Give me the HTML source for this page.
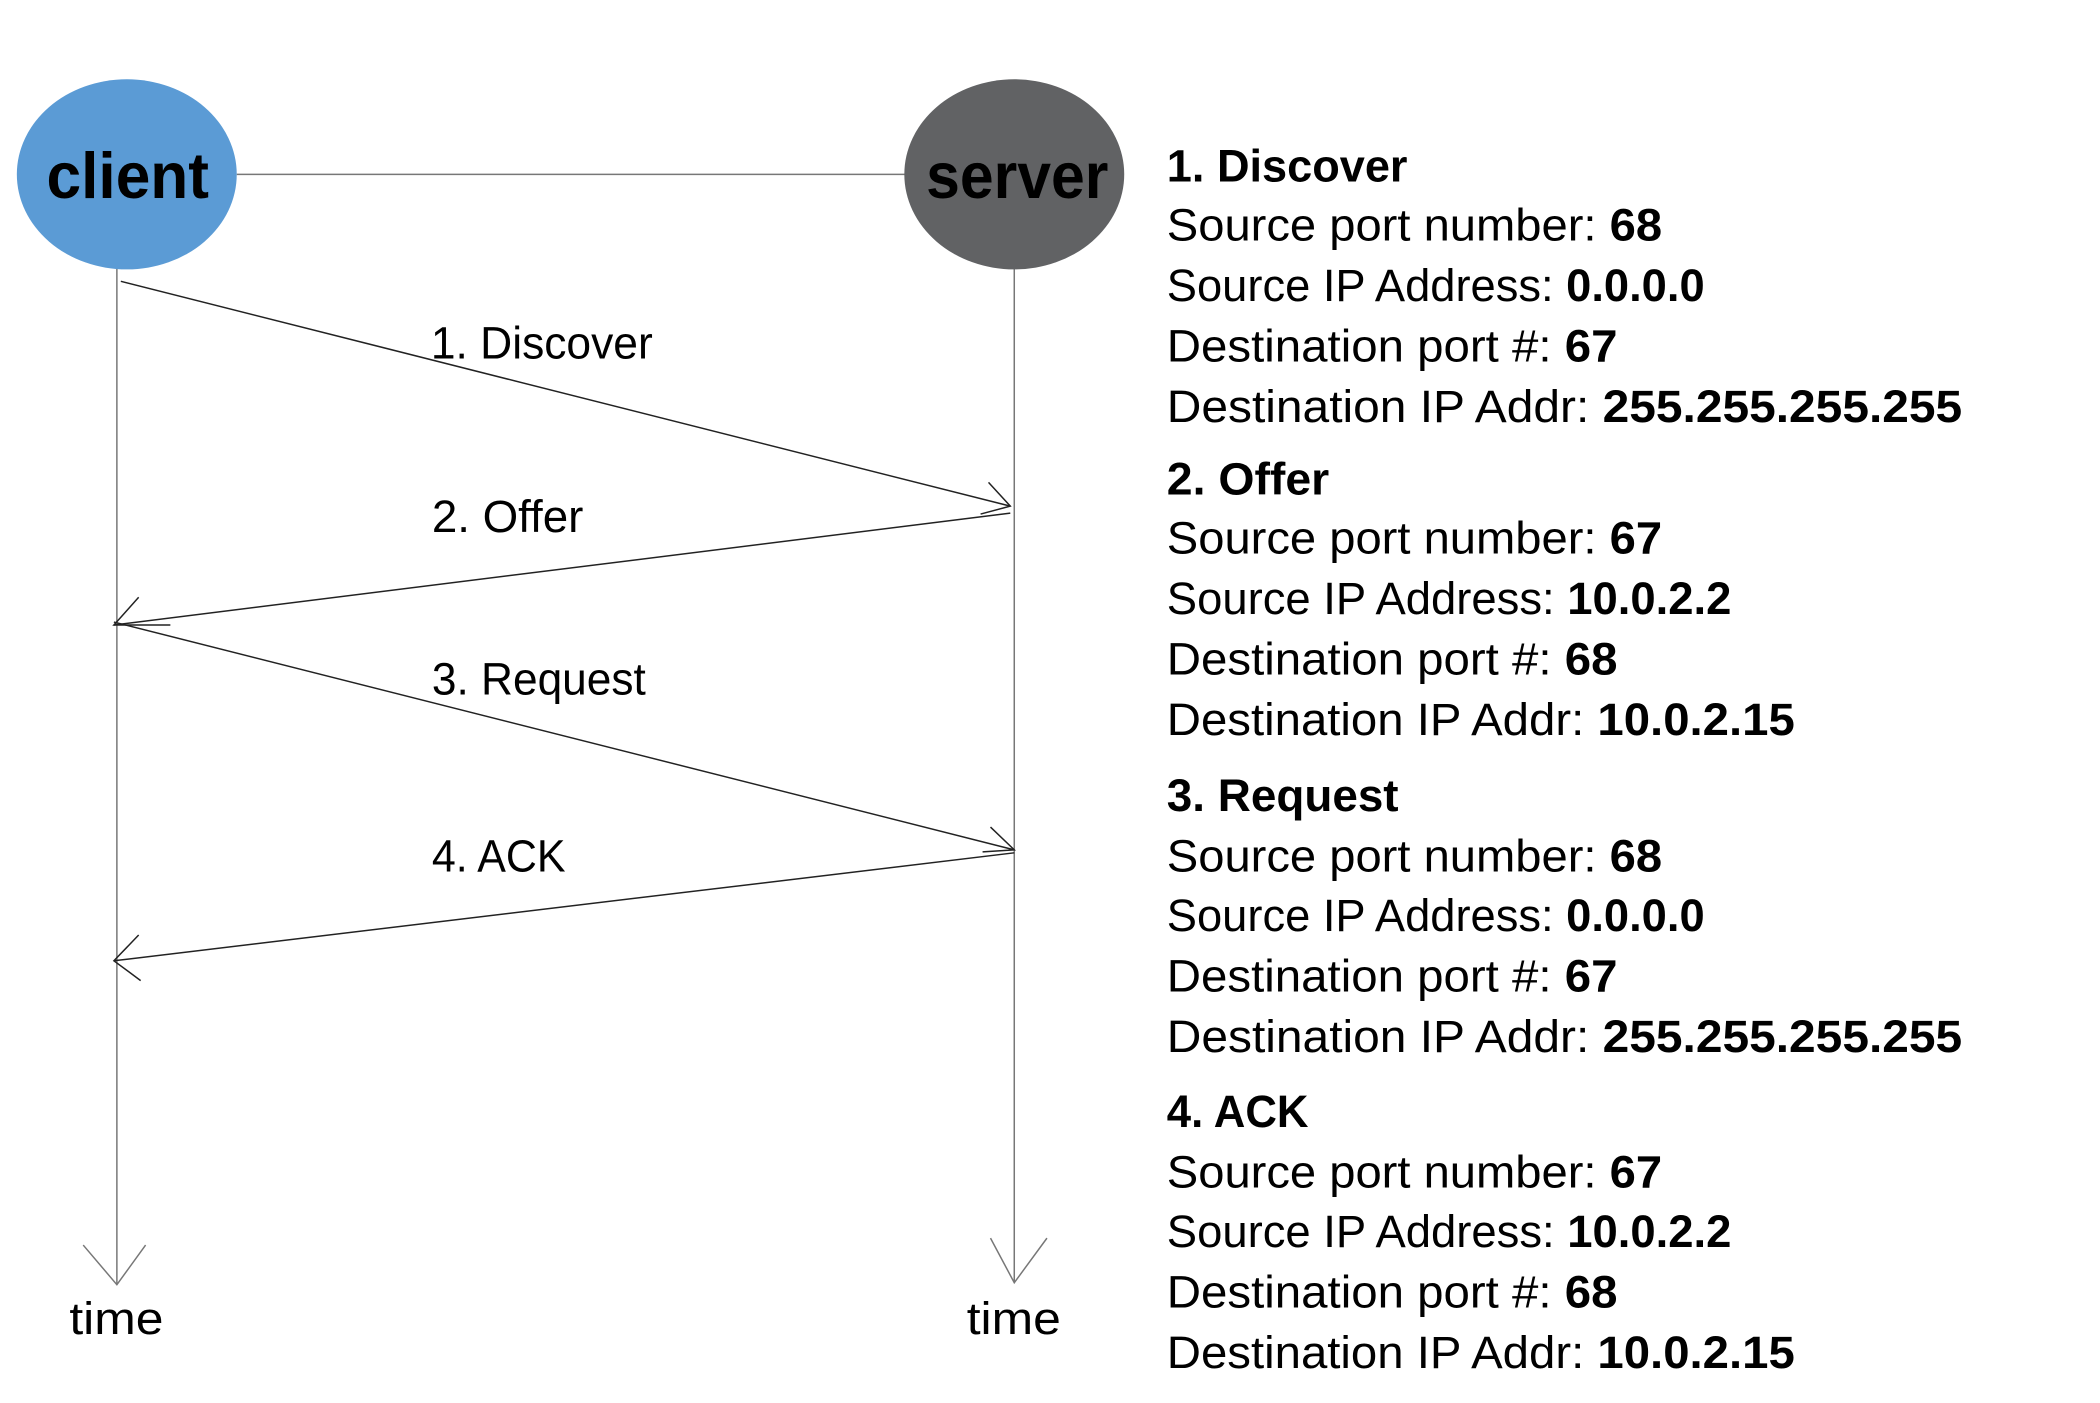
<!DOCTYPE html>
<html><head><meta charset="utf-8"><style>html,body{margin:0;padding:0;background:#fff}svg{display:block}</style></head>
<body>
<svg width="2100" height="1403" viewBox="0 0 2100 1403" xmlns="http://www.w3.org/2000/svg" font-family="Liberation Sans, sans-serif">
<rect width="2100" height="1403" fill="#fff"/>
<g transform="scale(0.9905)">
<g stroke="#777" stroke-width="1.5" fill="none">
<line x1="239" y1="176" x2="915" y2="176"/>
<line x1="118" y1="270" x2="118" y2="1297"/>
<line x1="1024" y1="270" x2="1024" y2="1295"/>
<polyline points="84,1257 118,1297 147,1257"/>
<polyline points="1000,1250 1024,1295 1057,1250"/>
</g>
<ellipse cx="128" cy="176" rx="111" ry="96" fill="#5b9bd5"/>
<ellipse cx="1024" cy="176" rx="111" ry="96" fill="#616264"/>
<g stroke="#222" stroke-width="1.5" fill="none">
<line x1="122" y1="284" x2="1020" y2="511"/>
<polyline points="998,487 1020,511 990,519"/>
<line x1="1020" y1="518" x2="115" y2="631"/>
<polyline points="140,603 115,631 172,631"/>
<line x1="115" y1="628" x2="1024" y2="858"/>
<polyline points="1000,835 1024,858 992,860"/>
<line x1="1024" y1="861" x2="115" y2="970"/>
<polyline points="140,944 115,970 142,990"/>
</g>
<g font-weight="bold" font-size="66" fill="#000">
<text x="47" y="200" textLength="164" lengthAdjust="spacingAndGlyphs">client</text>
<text x="935" y="200" textLength="184" lengthAdjust="spacingAndGlyphs">server</text>
</g>
<g font-size="46" fill="#000">
<text x="435" y="362" textLength="224" lengthAdjust="spacingAndGlyphs">1. Discover</text>
<text x="436" y="537" textLength="153" lengthAdjust="spacingAndGlyphs">2. Offer</text>
<text x="436" y="701" textLength="216" lengthAdjust="spacingAndGlyphs">3. Request</text>
<text x="436" y="880" textLength="135" lengthAdjust="spacingAndGlyphs">4. ACK</text>
<text x="70" y="1347" textLength="95" lengthAdjust="spacingAndGlyphs">time</text>
<text x="976" y="1347" textLength="95" lengthAdjust="spacingAndGlyphs">time</text>

<text x="1178" y="183" font-weight="bold" textLength="243" lengthAdjust="spacingAndGlyphs">1. Discover</text>
<text x="1178" y="243" textLength="500" lengthAdjust="spacingAndGlyphs">Source port number: <tspan font-weight="bold">68</tspan></text>
<text x="1178" y="304" textLength="543" lengthAdjust="spacingAndGlyphs">Source IP Address: <tspan font-weight="bold">0.0.0.0</tspan></text>
<text x="1178" y="365" textLength="455" lengthAdjust="spacingAndGlyphs">Destination port #: <tspan font-weight="bold">67</tspan></text>
<text x="1178" y="426" textLength="803" lengthAdjust="spacingAndGlyphs">Destination IP Addr: <tspan font-weight="bold">255.255.255.255</tspan></text>

<text x="1178" y="499" font-weight="bold" textLength="164" lengthAdjust="spacingAndGlyphs">2. Offer</text>
<text x="1178" y="559" textLength="500" lengthAdjust="spacingAndGlyphs">Source port number: <tspan font-weight="bold">67</tspan></text>
<text x="1178" y="620" textLength="570" lengthAdjust="spacingAndGlyphs">Source IP Address: <tspan font-weight="bold">10.0.2.2</tspan></text>
<text x="1178" y="681" textLength="455" lengthAdjust="spacingAndGlyphs">Destination port #: <tspan font-weight="bold">68</tspan></text>
<text x="1178" y="742" textLength="634" lengthAdjust="spacingAndGlyphs">Destination IP Addr: <tspan font-weight="bold">10.0.2.15</tspan></text>

<text x="1178" y="819" font-weight="bold" textLength="234" lengthAdjust="spacingAndGlyphs">3. Request</text>
<text x="1178" y="880" textLength="500" lengthAdjust="spacingAndGlyphs">Source port number: <tspan font-weight="bold">68</tspan></text>
<text x="1178" y="940" textLength="543" lengthAdjust="spacingAndGlyphs">Source IP Address: <tspan font-weight="bold">0.0.0.0</tspan></text>
<text x="1178" y="1001" textLength="455" lengthAdjust="spacingAndGlyphs">Destination port #: <tspan font-weight="bold">67</tspan></text>
<text x="1178" y="1062" textLength="803" lengthAdjust="spacingAndGlyphs">Destination IP Addr: <tspan font-weight="bold">255.255.255.255</tspan></text>

<text x="1178" y="1138" font-weight="bold" textLength="143" lengthAdjust="spacingAndGlyphs">4. ACK</text>
<text x="1178" y="1199" textLength="500" lengthAdjust="spacingAndGlyphs">Source port number: <tspan font-weight="bold">67</tspan></text>
<text x="1178" y="1259" textLength="570" lengthAdjust="spacingAndGlyphs">Source IP Address: <tspan font-weight="bold">10.0.2.2</tspan></text>
<text x="1178" y="1320" textLength="455" lengthAdjust="spacingAndGlyphs">Destination port #: <tspan font-weight="bold">68</tspan></text>
<text x="1178" y="1381" textLength="634" lengthAdjust="spacingAndGlyphs">Destination IP Addr: <tspan font-weight="bold">10.0.2.15</tspan></text>
</g>
</g>
</svg>
</body></html>
